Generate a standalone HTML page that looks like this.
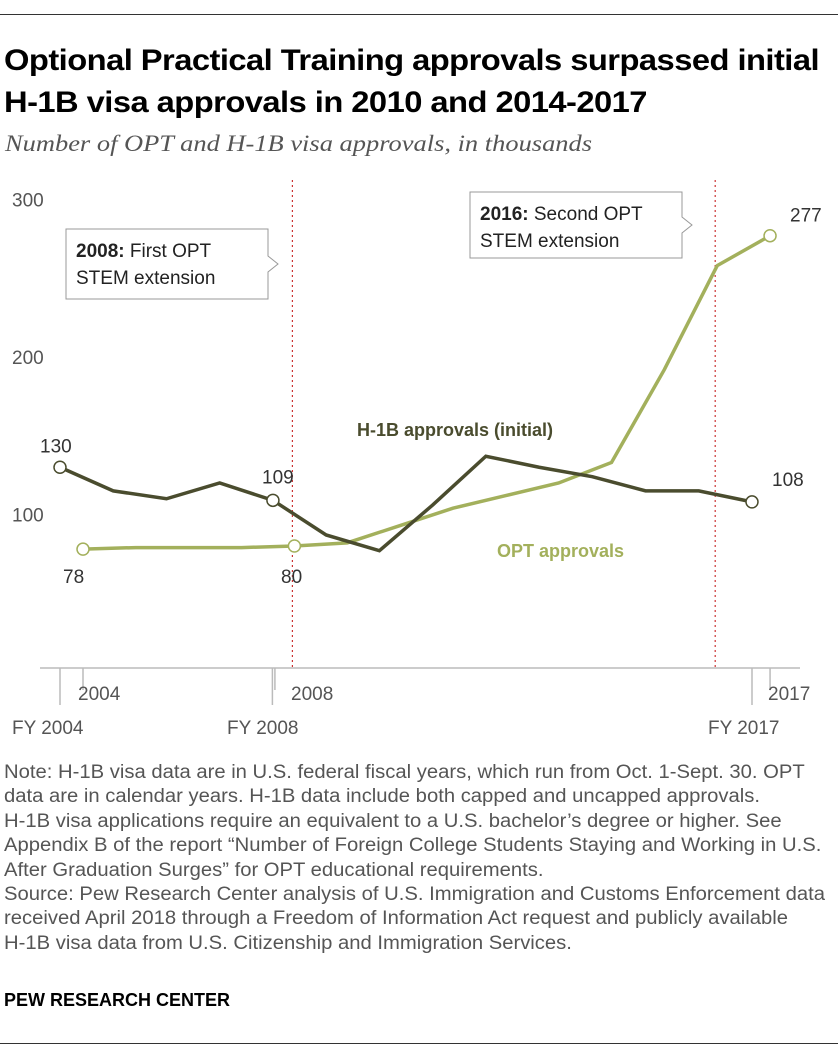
<!DOCTYPE html>
<html><head><meta charset="utf-8"><style>
body{margin:0;width:838px;height:1060px;background:#fff;font-family:"Liberation Sans",sans-serif;position:relative;overflow:hidden}
.t{position:absolute;white-space:nowrap;transform-origin:0 0}
</style></head><body>
<div style="position:absolute;left:0;top:14px;width:838px;height:1px;background:#333"></div>
<div class="t" style="left:4px;top:40px;font-size:30px;font-weight:bold;line-height:42px;color:#000;letter-spacing:-0.5px;transform:scaleX(1.09)">Optional Practical Training approvals surpassed initial<br>H-1B visa approvals in 2010 and 2014-2017</div>
<div class="t" style="left:5px;top:131px;font-family:'Liberation Serif',serif;font-style:italic;font-size:23px;color:#555;transform:scaleX(1.15)">Number of OPT and H-1B visa approvals, in thousands</div>
<svg id="chart" width="838" height="740" style="position:absolute;left:0;top:0" font-family="Liberation Sans, sans-serif"></svg>
<div class="t" style="left:4px;top:761px;font-size:19px;line-height:24.4px;color:#555;transform:scaleX(1.065)">Note: H-1B visa data are in U.S. federal fiscal years, which run from Oct. 1-Sept. 30. OPT<br>data are in calendar years. H-1B data include both capped and uncapped approvals.<br>H-1B visa applications require an equivalent to a U.S. bachelor’s degree or higher. See<br>Appendix B of the report “Number of Foreign College Students Staying and Working in U.S.<br>After Graduation Surges” for OPT educational requirements.<br>Source: Pew Research Center analysis of U.S. Immigration and Customs Enforcement data<br>received April 2018 through a Freedom of Information Act request and publicly available<br>H-1B visa data from U.S. Citizenship and Immigration Services.</div>
<div class="t" style="left:4px;top:990px;font-size:18px;font-weight:bold;color:#000">PEW RESEARCH CENTER</div>
<div style="position:absolute;left:0;top:1043px;width:838px;height:1px;background:#333"></div>
<script>
const years=[2004,2005,2006,2007,2008,2009,2010,2011,2012,2013,2014,2015,2016,2017];
const h1b=[130,115,110,120,109,87,77,106,137,130,124,115,115,108];
const opt=[78,79,79,79,80,82,93,104,112,120,133,192,258,277];
const yTicks=[100,200,300];
const svg=document.getElementById('chart');
const NS='http://www.w3.org/2000/svg';
const y=v=>672-v*1.575;
const xH=yr=>60+(yr-2004)*53.23;
const xO=yr=>83+(yr-2004)*52.85;
function el(t,a,p){const e=document.createElementNS(NS,t);for(const k in a)e.setAttribute(k,a[k]);(p||svg).appendChild(e);return e;}
function txt(s,x,yy,a){const e=el('text',Object.assign({x:x,y:yy,'font-size':19,fill:'#555'},a||{}));e.textContent=s;return e;}
yTicks.forEach(v=>{const t=txt(String(v),12,y(v)+7);

});
const ax=el('line',{x1:40,x2:800,y1:668,y2:668,stroke:'#bbb','stroke-width':1.5});


[[xH(2004),705],[xO(2004),690],[xH(2008)+2,690],[xO(2008)-22,705],[xH(2017),705],[xO(2017),690]].forEach(p=>{const l=el('line',{x1:p[0],x2:p[0],y1:668,y2:p[1],stroke:'#bbb','stroke-width':1.5});

});
[['2004',78,700],['FY 2004',12,734],['2008',291,700],['FY 2008',227,734],['2017',768,700],['FY 2017',708,734]].forEach(a=>{const t=txt(a[0],a[1],a[2]);

});
[2008,2016].forEach(yr=>{const l=el('line',{x1:xO(yr)-2,x2:xO(yr)-2,y1:180,y2:668,stroke:'#c33','stroke-width':1.2,'stroke-dasharray':'2,3'});

});
const pO=el('polyline',{points:years.map((yr,i)=>xO(yr)+','+y(opt[i])).join(' '),fill:'none',stroke:'#a3b05c','stroke-width':3.5});


const pH=el('polyline',{points:years.map((yr,i)=>xH(yr)+','+y(h1b[i])).join(' '),fill:'none',stroke:'#4a4c2e','stroke-width':3.5});


[[xH,h1b,0],[xH,h1b,4],[xH,h1b,13],[xO,opt,0],[xO,opt,4],[xO,opt,13]].forEach(a=>{const c=el('circle',{cx:a[0](years[a[2]]),cy:y(a[1][a[2]]),r:6,fill:'#fff',stroke:a[1]===h1b?'#4a4c2e':'#a3b05c','stroke-width':1.5});

});
[[String(h1b[0]),40,y(h1b[0])-15],[String(h1b[4]),262,y(h1b[4])-17],[String(h1b[13]),772,y(h1b[13])-16],[String(opt[0]),63,y(opt[0])+34],[String(opt[4]),281,y(opt[4])+37],[String(opt[13]),790,y(opt[13])-14]].forEach(a=>{const t=txt(a[0],a[1],a[2],{fill:'#333'});

});
const lh=txt('H-1B approvals (initial)',357,436,{fill:'#4a4c2e','font-weight':'bold','font-size':18});


const lo=txt('OPT approvals',497,557,{fill:'#a3b05c','font-weight':'bold','font-size':18});


function box(x,yy,w,h,l1b,l1,l2,name){
 const g=el('g',{});
 
 
 el('path',{d:`M${x},${yy} H${x+w} V${yy+h/2-8} L${x+w+10},${yy+h/2} L${x+w},${yy+h/2+8} V${yy+h} H${x} Z`,fill:'#fff',stroke:'#999','stroke-width':1},g);
 const t=el('text',{x:x+10,y:yy+28,'font-size':19,fill:'#222'},g);
 const b=el('tspan',{'font-weight':'bold'},t);b.textContent=l1b;
 const r=el('tspan',{},t);r.textContent=l1;
 const t2=el('text',{x:x+10,y:yy+55,'font-size':19,fill:'#222'},g);t2.textContent=l2;
}
box(66,229,202,70,'2008:',' First OPT','STEM extension','annotation-2008');
box(470,192,212,66,'2016:',' Second OPT','STEM extension','annotation-2016');
</script>
</body></html>
